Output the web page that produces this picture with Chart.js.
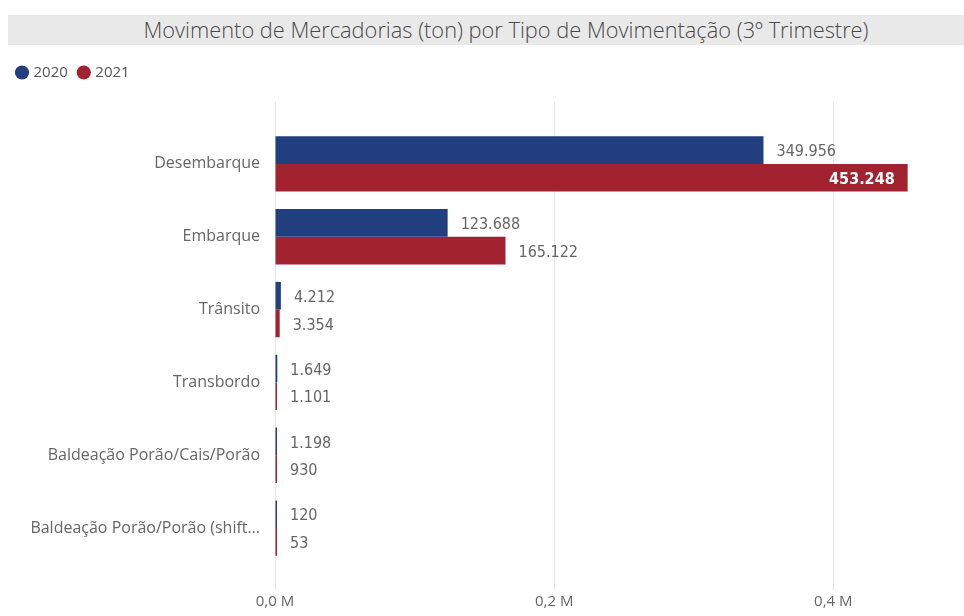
<!DOCTYPE html>
<html>
<head>
<meta charset="utf-8">
<script src="https://cdn.jsdelivr.net/npm/chart.js@4"></script>
<style>
  body { margin: 0; background: #fff; }
  #wrap { position: relative; width: 964px; height: 616px; overflow: hidden; }
  #titulo {
    position: absolute; left: 8px; top: 15px; width: 996px; height: 30px;
    background: #e9e9e9; color: #4a4a4a; text-align: center;
    font: 300 21.8px "Open Sans", sans-serif; line-height: 30px;
  }
  canvas { position: absolute; left: 0; top: 0; }
</style>
</head>
<body>
<div id="wrap">
  <canvas id="grafico" width="964" height="616"></canvas>
  <div id="titulo">Movimento de Mercadorias (ton) por Tipo de Movimentação (3º Trimestre)</div>
</div>
<script>
const categorias = ['Desembarque', 'Embarque', 'Trânsito', 'Transbordo', 'Baldeação Porão/Cais/Porão', 'Baldeação Porão/Porão (shift…'];
const anos = ['2020', '2021'];
const valores2020 = [349956, 123688, 4212, 1649, 1198, 120];
const valores2021 = [453248, 165122, 3354, 1101, 930, 53];
const ticksX = [0, 200000, 400000];
const cores = ['#213f7e', '#a2222f'];

const fmt = v => String(v).replace(/\B(?=(\d{3})+(?!\d))/g, '.');
const fonteRotulo = '16px "DejaVu Sans Condensed", sans-serif';

// rótulos de valor no fim de cada barra
const rotulos = {
  id: 'rotulos',
  afterDatasetsDraw(chart) {
    const ctx = chart.ctx;
    const area = chart.chartArea;
    ctx.save();
    ctx.textBaseline = 'middle';
    chart.data.datasets.forEach((ds, i) => {
      chart.getDatasetMeta(i).data.forEach((bar, j) => {
        const txt = fmt(ds.data[j].x);
        ctx.font = fonteRotulo;
        const w = ctx.measureText(txt).width;
        if (bar.x + 13 + w > area.right) {
          ctx.fillStyle = '#fff';
          ctx.font = 'bold ' + fonteRotulo;
          ctx.textAlign = 'right';
          ctx.fillText(txt, bar.x - 13, bar.y + 2);
        } else {
          ctx.fillStyle = '#666';
          ctx.textAlign = 'left';
          ctx.fillText(txt, bar.x + 13, bar.y + 2);
        }
      });
    });
    ctx.restore();
  }
};

// um pouco mais de espaço abaixo da legenda
const espacoLegenda = {
  id: 'espacoLegenda',
  beforeInit(chart) {
    const fitOrig = chart.legend.fit;
    chart.legend.fit = function () {
      fitOrig.bind(chart.legend)();
      this.height += 12;
    };
  }
};

const ctx = document.getElementById('grafico').getContext('2d');
const grafico = new Chart(ctx, {
  type: 'bar',
  data: {
    datasets: [
      { label: anos[0], data: valores2020.map((v, i) => ({ x: v, y: i })), backgroundColor: cores[0] },
      { label: anos[1], data: valores2021.map((v, i) => ({ x: v, y: i })), backgroundColor: cores[1] }
    ]
  },
  options: {
    responsive: false,
    animation: false,
    indexAxis: 'y',
    categoryPercentage: 0.76,
    barPercentage: 1,
    minBarLength: 2,
    layout: { padding: { top: 53, right: 19, bottom: 2, left: 6 } },
    plugins: {
      legend: {
        position: 'top',
        align: 'start',
        labels: {
          usePointStyle: true,
          pointStyle: 'circle',
          boxWidth: 8,
          boxHeight: 10,
          padding: 12,
          color: '#555',
          font: { family: 'Open Sans', size: 15 }
        }
      },
      tooltip: { enabled: false }
    },
    scales: {
      x: {
        type: 'linear',
        bounds: 'data',
        min: 0,
        max: 480000,
        border: { display: false },
        grid: { color: '#e6e6e6', drawTicks: false },
        afterBuildTicks: s => { s.ticks = ticksX.map(v => ({ value: v })); },
        ticks: {
          padding: 3,
          color: '#666',
          font: { family: 'Open Sans', size: 15 },
          callback: v => (v / 1e6).toFixed(1).replace('.', ',') + ' M'
        }
      },
      y: {
        type: 'linear',
        bounds: 'data',
        reverse: true,
        offset: false,
        min: -0.85,
        max: 5.85,
        border: { display: false },
        grid: { display: false },
        afterFit: s => { s.width = 269; },
        afterBuildTicks: s => { s.ticks = categorias.map((c, i) => ({ value: i })); },
        ticks: {
          autoSkip: false,
          padding: 7,
          color: '#666',
          font: { family: 'Open Sans', size: 16 },
          callback: v => categorias[v]
        }
      }
    }
  },
  plugins: [rotulos, espacoLegenda]
});
</script>
</body>
</html>
